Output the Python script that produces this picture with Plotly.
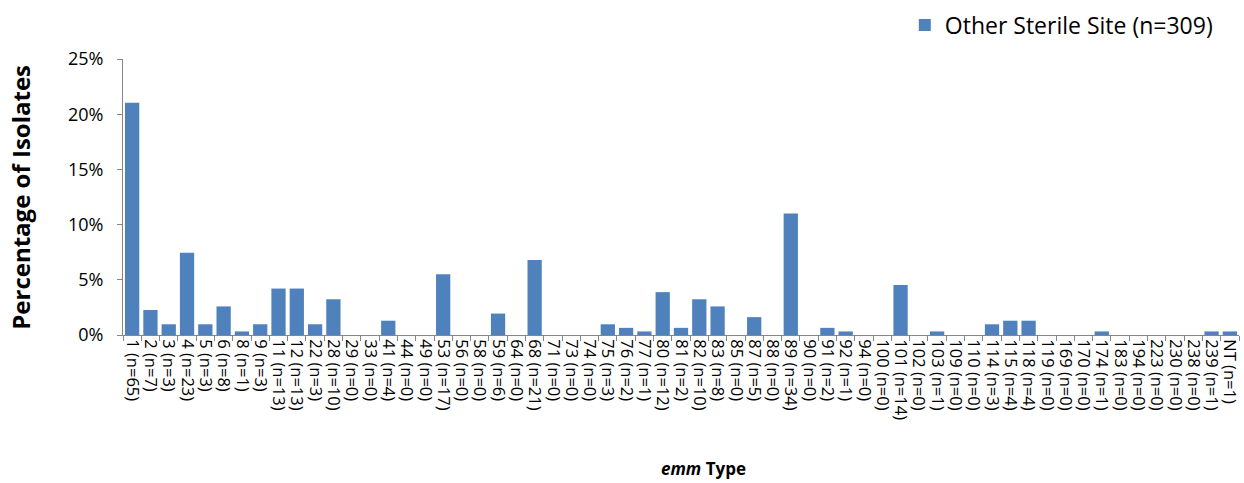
import plotly.graph_objects as go

# emm types and isolate counts for other sterile sites
emm_types = ["1", "2", "3", "4", "5", "6", "8", "9", "11", "12", "22", "28", "29", "33",
             "41", "44", "49", "53", "56", "58", "59", "64", "68", "71", "73", "74", "75",
             "76", "77", "80", "81", "82", "83", "85", "87", "88", "89", "90", "91", "92",
             "94", "100", "101", "102", "103", "109", "110", "114", "115", "118", "119",
             "169", "170", "174", "183", "194", "223", "230", "238", "239", "NT"]
counts = [65, 7, 3, 23, 3, 8, 1, 3, 13, 13, 3, 10, 0, 0,
          4, 0, 0, 17, 0, 0, 6, 0, 21, 0, 0, 0, 3,
          2, 1, 12, 2, 10, 8, 0, 5, 0, 34, 0, 2, 1,
          0, 0, 14, 0, 1, 0, 0, 3, 4, 4, 0,
          0, 0, 1, 0, 0, 0, 0, 0, 1, 1]
total = 309
y_ticks = [0, 5, 10, 15, 20, 25]

labels = [f"{t} (n={c})" for t, c in zip(emm_types, counts)]
percent = [c / total * 100 for c in counts]

FONT = "'Open Sans', sans-serif"
AXIS_GRAY = "#868686"

fig = go.Figure()
fig.add_trace(go.Bar(
    x=labels, y=percent,
    name=f"Other Sterile Site (n={total})",
    marker=dict(color="#4F81BD", line=dict(width=0)),
))

fig.update_layout(
    width=1244, height=483,
    margin=dict(l=123, r=5, t=59, b=148),
    plot_bgcolor="white", paper_bgcolor="white",
    bargap=0.22,
    font=dict(family=FONT, size=16, color="black"),
    showlegend=True,
    legend=dict(
        xref="paper", yref="container",
        x=0.981, y=0.948, xanchor="right", yanchor="middle",
        font=dict(size=23, family=FONT), bgcolor="rgba(0,0,0,0)",
        itemwidth=30,
    ),
)

fig.update_xaxes(
    type="category", tickangle=90, tickson="boundaries",
    tickmode="array", tickvals=labels, ticktext=labels,
    ticks="outside", ticklen=5, tickcolor=AXIS_GRAY,
    showline=True, linecolor=AXIS_GRAY, linewidth=1,
    showgrid=False, tickfont=dict(size=16.5, family=FONT),
    range=[-0.5, len(labels) - 0.5], automargin=False,
)
fig.update_yaxes(
    range=[0, 25], tickvals=y_ticks, ticktext=[f"{v}%" for v in y_ticks],
    ticks="outside", ticklen=5, tickcolor=AXIS_GRAY,
    showline=True, linecolor=AXIS_GRAY, linewidth=1,
    showgrid=False, zeroline=False, tickfont=dict(size=18, family=FONT),
    ticklabelstandoff=10, automargin=False,
)

fig.add_annotation(
    text="<b>Percentage of Isolates</b>", textangle=-90,
    xref="paper", yref="paper", x=-0.0925, y=0.5,
    xanchor="center", yanchor="middle", showarrow=False,
    font=dict(size=24, family=FONT),
)
fig.add_annotation(
    text="<b><i>emm</i> Type</b>",
    xref="paper", yref="paper", x=0.52, y=-0.482,
    xanchor="center", yanchor="middle", showarrow=False,
    font=dict(size=17, family=FONT),
)

fig.write_html("out.html")
